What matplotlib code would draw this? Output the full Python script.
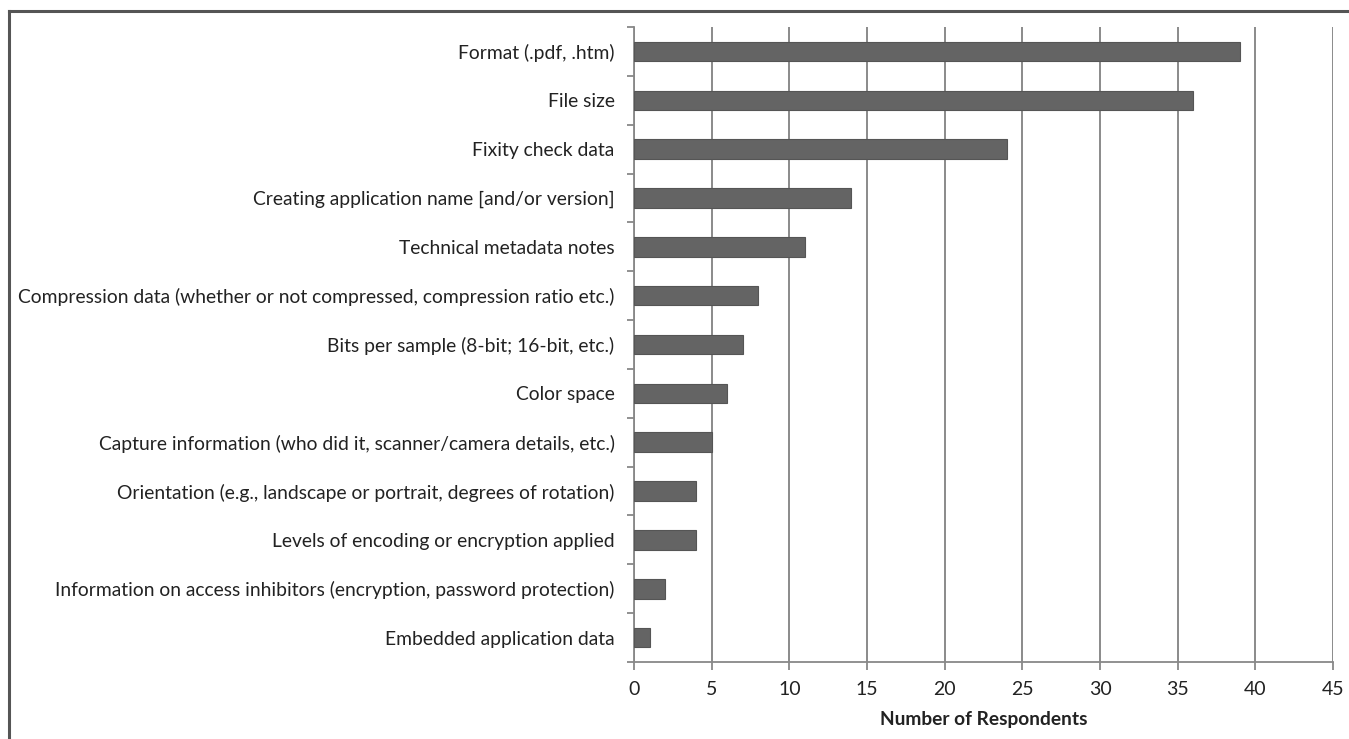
import matplotlib
matplotlib.use("Agg")
import matplotlib.pyplot as plt
from matplotlib.lines import Line2D
import numpy as np

plt.rcParams['font.family'] = ['Lato', 'DejaVu Sans']

categories = [
    "Format (.pdf, .htm)",
    "File size",
    "Fixity check data",
    "Creating application name [and/or version]",
    "Technical metadata notes",
    "Compression data (whether or not compressed, compression ratio etc.)",
    "Bits per sample (8-bit; 16-bit, etc.)",
    "Color space",
    "Capture information (who did it, scanner/camera details, etc.)",
    "Orientation (e.g., landscape or portrait, degrees of rotation)",
    "Levels of encoding or encryption applied",
    "Information on access inhibitors (encryption, password protection)",
    "Embedded application data",
]
respondents = [39, 36, 24, 14, 11, 8, 7, 6, 5, 4, 4, 2, 1]
x_ticks = [0, 5, 10, 15, 20, 25, 30, 35, 40, 45]

W, H = 1349, 739
fig = plt.figure(figsize=(W / 100, H / 100), dpi=100)
ax = fig.add_axes([634 / W, 1 - 662 / H, (1333 - 634) / W, (662 - 27) / H])

n = len(categories)
ypos = np.arange(n)
ax.barh(ypos, respondents, height=0.4, color="#646464", edgecolor="#555555",
        linewidth=0.8, zorder=3)

ax.set_ylim(n - 0.5, -0.5)
ax.set_xlim(0, 45)

ax.set_yticks(ypos)
ax.set_yticklabels(categories, fontsize=13.9, color="#222222")
ax.set_yticks(np.arange(n + 1) - 0.5, minor=True)
ax.tick_params(axis="y", which="major", length=0, pad=14)
ax.tick_params(axis="y", which="minor", length=5, width=1.3, color="#888888")

ax.set_xticks(x_ticks)
ax.set_xticklabels([str(v) for v in x_ticks], fontsize=14, color="#222222")
ax.tick_params(axis="x", length=6, width=1.3, color="#888888", pad=8)
ax.set_xlabel("Number of Respondents", fontsize=13.8, fontweight="bold",
              color="#222222", labelpad=9)

ax.xaxis.grid(True, color="#8a8a8a", linewidth=1.4, zorder=0)
ax.set_axisbelow(True)
for side in ("top", "right"):
    ax.spines[side].set_visible(False)
for side in ("left", "bottom"):
    ax.spines[side].set_color("#888888")
    ax.spines[side].set_linewidth(1.3)

# outer frame (top and left edges)
fx = 8.5 / W
fy = 1 - 11 / H
fig.add_artist(Line2D([fx, 1], [fy, fy], transform=fig.transFigure,
                      color="#555555", linewidth=2.2))
fig.add_artist(Line2D([fx, fx], [0, fy], transform=fig.transFigure,
                      color="#555555", linewidth=2.2))

fig.savefig("out.png", dpi=100, facecolor="white")
